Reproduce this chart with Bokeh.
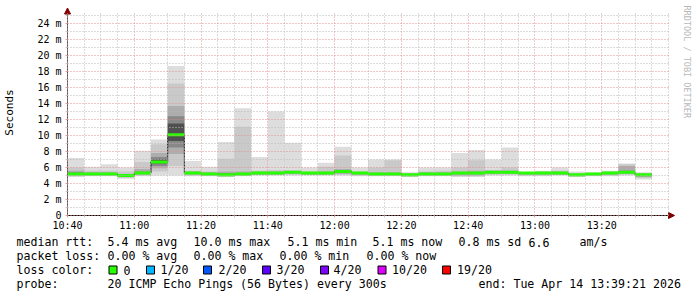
import math
from bokeh.plotting import figure
from bokeh.models import FixedTicker, Label, BoxAnnotation, Arrow, NormalHead, Range1d, Grid
from bokeh.embed import file_html
from bokeh.resources import INLINE

# ---- data (milliseconds) ----
times = ["10:40", "10:45", "10:50", "10:55", "11:00", "11:05", "11:10", "11:15", "11:20", "11:25",
         "11:30", "11:35", "11:40", "11:45", "11:50", "11:55", "12:00", "12:05", "12:10", "12:15",
         "12:20", "12:25", "12:30", "12:35", "12:40", "12:45", "12:50", "12:55", "13:00", "13:05",
         "13:10", "13:15", "13:20", "13:25", "13:30"]
rtt_max = [7.2, 6.1, 6.4, 6.0, 8.1, 9.5, 18.7, 6.8, 6.1, 9.2, 13.4, 7.3, 13.0, 9.1, 6.0, 6.6, 8.6, 6.0, 7.0, 7.0,
           5.4, 6.0, 6.0, 7.8, 8.2, 7.0, 8.5, 5.4, 5.6, 6.0, 5.5, 5.4, 5.6, 6.5, 5.4]
band2_hi = [6.0, 5.6, 5.6, 5.5, 6.7, 8.9, 16.5, 5.6, 5.5, 7.1, 11.1, 5.6, 5.7, 5.6, 5.5, 6.1, 7.5, 5.5, 6.0, 6.9,
            5.3, 5.5, 5.6, 6.0, 6.9, 5.7, 6.0, 5.4, 5.5, 5.6, 5.3, 5.3, 5.5, 6.4, 5.3]
band3_hi = [5.6, 5.4, 5.4, 5.2, 5.8, 7.8, 13.7, 5.5, 5.4, 5.5, 5.5, 5.5, 5.5, 5.6, 5.4, 5.5, 5.8, 5.4, 5.4, 5.4,
            5.2, 5.4, 5.4, 5.5, 5.6, 5.6, 5.6, 5.4, 5.4, 5.5, 5.2, 5.3, 5.4, 6.2, 5.2]
band4_hi = [5.4, 5.3, 5.3, 5.1, 5.5, 7.3, 12.4, 5.4, 5.3, 5.3, 5.3, 5.4, 5.4, 5.5, 5.4, 5.4, 5.6, 5.4, 5.3, 5.3,
            5.2, 5.3, 5.3, 5.4, 5.4, 5.5, 5.5, 5.4, 5.4, 5.4, 5.2, 5.3, 5.4, 5.6, 5.2]
band5_hi = [5.3, 5.25, 5.25, 5.05, 5.35, 7.0, 11.5, 5.35, 5.25, 5.15, 5.25, 5.35, 5.35, 5.45, 5.35, 5.35, 5.55, 5.35, 5.25, 5.25,
            5.15, 5.25, 5.25, 5.35, 5.35, 5.45, 5.45, 5.35, 5.35, 5.35, 5.15, 5.25, 5.35, 5.45, 5.15]
median = [5.2, 5.2, 5.2, 5.0, 5.3, 6.7, 10.1, 5.3, 5.2, 5.1, 5.2, 5.3, 5.3, 5.4, 5.3, 5.3, 5.5, 5.3, 5.2, 5.2,
          5.1, 5.2, 5.2, 5.3, 5.3, 5.4, 5.4, 5.3, 5.3, 5.3, 5.1, 5.2, 5.3, 5.4, 5.1]
band5_lo = [5.15, 5.15, 5.15, 4.95, 5.25, 6.5, 9.3, 5.25, 5.15, 5.05, 5.15, 5.25, 5.25, 5.35, 5.25, 5.25, 5.45, 5.25, 5.15, 5.15,
            5.05, 5.15, 5.15, 5.25, 5.25, 5.35, 5.35, 5.25, 5.25, 5.25, 5.05, 5.15, 5.25, 5.35, 5.05]
band4_lo = [5.1, 5.1, 5.1, 4.9, 5.2, 6.2, 8.5, 5.2, 5.1, 5.0, 5.1, 5.2, 5.2, 5.3, 5.2, 5.2, 5.4, 5.2, 5.1, 5.1,
            5.0, 5.1, 5.1, 5.2, 5.2, 5.3, 5.3, 5.2, 5.2, 5.2, 5.0, 5.1, 5.2, 5.3, 5.0]
band3_lo = [5.0, 5.0, 5.0, 4.8, 5.1, 5.9, 7.7, 5.1, 5.0, 4.9, 5.0, 5.1, 5.1, 5.2, 5.1, 5.1, 5.2, 5.1, 5.0, 5.0,
            4.9, 5.0, 5.0, 5.0, 5.0, 5.2, 5.2, 5.1, 5.1, 5.1, 4.9, 5.0, 5.1, 5.2, 4.8]
band2_lo = [4.9, 5.0, 5.0, 4.7, 5.0, 5.5, 6.2, 5.0, 5.0, 4.9, 5.0, 5.1, 5.1, 5.1, 5.1, 5.1, 5.1, 5.0, 5.0, 5.0,
            4.9, 5.0, 5.0, 4.9, 4.9, 5.1, 5.1, 5.0, 5.0, 5.1, 4.9, 5.0, 5.0, 5.1, 4.7]
rtt_min = [4.8, 4.9, 4.9, 4.6, 4.9, 5.0, 5.0, 4.9, 4.9, 4.8, 4.9, 5.0, 5.0, 5.0, 5.0, 5.0, 5.0, 4.9, 4.9, 4.9,
           4.8, 4.9, 4.9, 4.8, 4.8, 5.0, 5.0, 4.9, 4.9, 5.0, 4.8, 4.9, 4.9, 5.0, 4.5]

x_tick_labels = ["10:40", "11:00", "11:20", "11:40", "12:00", "12:20", "12:40", "13:00", "13:20"]
y_tick_values = [0, 2, 4, 6, 8, 10, 12, 14, 16, 18, 20, 22, 24]
loss_labels = ["0", "1/20", "2/20", "3/20", "4/20", "10/20", "19/20"]
loss_colors = ["#26ff00", "#00b8ff", "#0059ff", "#5e00ff", "#7e00ff", "#dd00ff", "#ff0000"]

def tmin(s):
    h, m = s.split(":")
    return int(h) * 60 + int(m)

starts = [tmin(t) for t in times]
ends = [s + 5 for s in starts]
centers = [s + 2.5 for s in starts]

# graph area: 10:40..13:40 and 0..25.25 ms, at canvas px 67..668 / 215..13
X0, X1 = tmin("10:40"), tmin("13:40")
Y0, Y1 = 0.0, 25.25
FL, FR, FT, FB = 67, 668, 13, 215
W, H = 697, 297

def dx(X):
    return X0 + (X - FL) * (X1 - X0) / (FR - FL)

def dy(Y):
    return Y0 + (FB - Y) * (Y1 - Y0) / (FB - FT)

p = figure(width=W, height=H, output_backend="svg", toolbar_location=None,
           x_range=Range1d(dx(0), dx(W)), y_range=Range1d(dy(H), dy(0)),
           min_border=0, min_border_left=0, min_border_right=0, min_border_top=0, min_border_bottom=0)
p.outline_line_color = None
p.background_fill_color = "white"
p.border_fill_color = "white"

# smoke bands
bands = [(rtt_min, rtt_max, "#dddddd"), (band2_lo, band2_hi, "#c9c9c9"),
         (band3_lo, band3_hi, "#adadad"), (band4_lo, band4_hi, "#888888"),
         (band5_lo, band5_hi, "#505050")]
for lo, hi, col in bands:
    p.quad(left=starts, right=ends, bottom=lo, top=hi, fill_color=col, line_color=None)

# median step line and loss colored band
p.step(x=starts + [ends[-1]], y=median + [median[-1]], mode="after", line_color="#202020", line_width=1)
p.rect(x=centers, y=median, width=5, height=3, height_units="screen",
       fill_color=loss_colors[0], line_color=None)

# axes, fixed at the graph origin
xmaj = [tmin(t) for t in x_tick_labels]
xmin = [m for m in range(X0 + 5, X1 + 1, 5) if m not in xmaj]
ymin = [v for v in range(1, 26, 2)]
p.xaxis.ticker = FixedTicker(ticks=xmaj, minor_ticks=xmin)
p.xaxis.major_label_overrides = {tmin(t): t for t in x_tick_labels}
p.yaxis.ticker = FixedTicker(ticks=y_tick_values, minor_ticks=ymin)
p.yaxis.major_label_overrides = {v: ("0" if v == 0 else f"{v} m") for v in y_tick_values}
p.xaxis.fixed_location = 0
p.yaxis.fixed_location = X0
p.xaxis.bounds = (X0, dx(672))
p.yaxis.bounds = (0, dy(9))

for ax in (p.xaxis[0], p.yaxis[0]):
    ax.major_label_text_font = "DejaVu Sans Mono"
    ax.major_label_text_font_size = "10px"
    ax.major_label_text_color = "black"
    ax.major_tick_in = 0
    ax.major_tick_out = 2
    ax.minor_tick_in = 0
    ax.minor_tick_out = 2
    ax.major_tick_line_color = "#e0a0a0"
    ax.minor_tick_line_color = "#c8c8c8"
p.xaxis.axis_line_color = "black"
p.yaxis.axis_line_color = "#505050"
p.yaxis.major_label_standoff = 4
p.xaxis.major_label_standoff = 2

p.yaxis.axis_label = "Seconds"
p.yaxis.axis_label_text_font = "DejaVu Sans Mono"
p.yaxis.axis_label_text_font_size = "11px"
p.yaxis.axis_label_text_font_style = "normal"
p.yaxis.axis_label_text_color = "black"
p.yaxis.axis_label_standoff = 18

MAJ_C, MIN_C = "#e08c8c", "#b8b8b8"
has_cross = "cross_bounds" in Grid.properties()
for g, cb in ((p.xgrid[0], (Y0, Y1)), (p.ygrid[0], (X0, X1))):
    g.grid_line_color = MAJ_C
    g.grid_line_dash = "1 2"
    g.grid_line_width = 1
    g.minor_grid_line_color = MIN_C
    g.minor_grid_line_dash = "1 2"
    g.minor_grid_line_width = 1
    g.level = "overlay"
    if has_cross:
        g.cross_bounds = cb
    else:
        g.visible = False

if not has_cross:
    p.segment(x0=xmaj + xmin, y0=[Y0] * len(xmaj + xmin), x1=xmaj + xmin, y1=[Y1] * len(xmaj + xmin),
              line_color=[MAJ_C] * len(xmaj) + [MIN_C] * len(xmin), line_dash="1 2", level="overlay")
    yl = y_tick_values[1:] + ymin
    p.segment(x0=[X0] * len(yl), y0=yl, x1=[X1] * len(yl), y1=yl,
              line_color=[MAJ_C] * (len(y_tick_values) - 1) + [MIN_C] * len(ymin), line_dash="1 2",
              level="overlay")

# axis arrows
p.add_layout(Arrow(end=NormalHead(size=6, fill_color="#800000", line_color="#800000"),
                   x_start=X0, y_start=Y1 - 1.5, x_end=X0, y_end=dy(7.5),
                   line_color="#505050", line_width=1))
p.add_layout(Arrow(end=NormalHead(size=6, fill_color="#800000", line_color="#800000"),
                   x_start=X1 - 3, y_start=0, x_end=dx(674), y_end=0,
                   line_color="black", line_width=1))

def txt(s, X, Y, size="11.6px", color="black", angle=0.0, align="left"):
    p.add_layout(Label(x=dx(X), y=dy(Y), text=s, text_font="DejaVu Sans Mono",
                       text_font_size=size, text_color=color, angle=angle,
                       text_align=align, text_baseline="middle"))

# watermark
txt("RRDTOOL / TOBI OETIKER", 686, 5, size="8.5px", color="#b8b8b8", angle=-math.pi / 2)

# legend lines
L1, L2, L3, L4 = 241.5, 255.5, 269.5, 283.5
for s, X in [("median rtt:", 16), ("5.4 ms avg", 107), ("10.0 ms max", 193), ("5.1 ms min", 287),
             ("5.1 ms now", 372), ("0.8 ms sd", 458), ("6.6", 528), ("am/s", 579)]:
    txt(s, X, L1)
for s, X in [("packet loss:", 16), ("0.00 % avg", 107), ("0.00 % max", 193), ("0.00 % min", 279),
             ("0.00 % now", 366)]:
    txt(s, X, L2)
txt("loss color:", 16, L3)
box_x = [108.5, 146, 203, 262, 320, 377.5, 442]
lab_x = [123, 160, 218, 276, 333, 391.5, 456.5]
for lab, col, bx, lx in zip(loss_labels, loss_colors, box_x, lab_x):
    p.add_layout(BoxAnnotation(left=dx(bx), right=dx(bx + 8), bottom=dy(L3 + 4), top=dy(L3 - 4),
                               fill_color=col, fill_alpha=1.0, line_color="black", line_width=1,
                               line_alpha=1.0))
    txt(lab, lx, L3)
txt("probe:", 16, L4)
txt("20 ICMP Echo Pings (56 Bytes) every 300s", 107, L4)
txt("end: Tue Apr 14 13:39:21 2026", 478, L4)

open("out.html", "w").write(file_html(p, INLINE))
